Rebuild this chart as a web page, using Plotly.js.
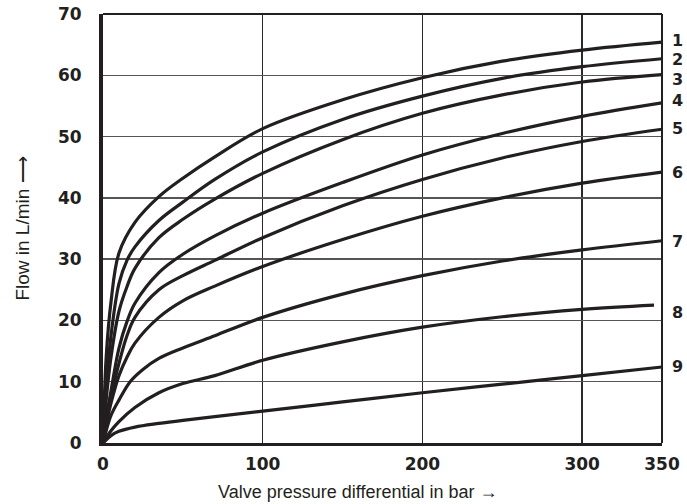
<!DOCTYPE html>
<html>
<head>
<meta charset="utf-8">
<script src="https://cdn.plot.ly/plotly-3.0.1.min.js"></script>
<style>html,body{margin:0;padding:0;background:#fff}#chart{width:687px;height:504px}</style>
</head>
<body>
<div id="chart"></div>
<script>
// Curve data: valve pressure differential (bar) vs flow (L/min)
const curveNames = ["1","2","3","4","5","6","7","8","9"];
const x1 = [0,2,5,10,20,35,50,70,100,150,200,250,300,350];
const y1 = [0,14,23,31,36,40.2,43.2,46.7,51.3,56,59.6,62.3,64.1,65.4];
const x2 = [0,2,5,10,15,20,35,50,70,100,150,200,250,300,350];
const y2 = [0,9,17.5,26,29.8,32,36.3,39.3,43,47.5,52.8,56.6,59.5,61.4,62.7];
const x3 = [0,2,5,10,15,20,35,50,70,100,150,200,250,300,350];
const y3 = [0,7,14,21.5,25.5,28.5,33.5,36.5,39.8,44,49.5,53.8,56.8,58.9,60.1];
const x4 = [0,2,5,10,15,20,35,50,70,100,150,200,250,300,350];
const y4 = [0,4,8.5,15.5,19.8,22.8,27.8,30.8,33.8,37.5,42.5,47,50.5,53.3,55.5];
const x5 = [0,2,5,10,15,20,35,50,70,100,150,200,250,300,350];
const y5 = [0,3.5,7.5,13,17.5,20.5,25,27.3,29.8,33.5,38.7,43,46.5,49.2,51.2];
const x6 = [0,2,5,10,15,20,35,50,70,100,150,200,250,300,350];
const y6 = [0,3,6.5,11,14,16.3,20.5,23.2,25.6,28.8,33.2,37,40,42.4,44.2];
const x7 = [0,2,5,10,17,25,35,50,70,100,150,200,250,300,350];
const y7 = [0,2,4.5,7,10,12,13.8,15.5,17.5,20.5,24.3,27.3,29.7,31.5,33];
const x8 = [0,5,10,20,35,50,70,100,150,200,250,300,345];
const y8 = [0,2,3.5,5.8,8.2,9.7,11,13.5,16.5,18.9,20.6,21.8,22.5];
const x9 = [0,5,10,20,35,50,70,100,150,200,250,300,350];
const y9 = [0,1.2,1.9,2.6,3.2,3.7,4.3,5.2,6.7,8.2,9.6,11,12.4];
const labelY = [65.8,62.7,59.4,55.9,51.4,44.2,33,21.3,12.5];
const xTicks = [0,100,200,300,350];
const yTicks = [0,10,20,30,40,50,60,70];
const xTitle = "Valve pressure differential in bar →";
const yTitle = "Flow in L/min ⟶";

const xs = [x1,x2,x3,x4,x5,x6,x7,x8,x9];
const ys = [y1,y2,y3,y4,y5,y6,y7,y8,y9];
const ink = "#231f20";

const traces = xs.map((x,i)=>({
  x: x, y: ys[i], type: "scatter", mode: "lines", name: curveNames[i],
  line: {color: ink, width: 3.2, shape: "spline", smoothing: 1},
  hoverinfo: "skip"
}));

const annotations = curveNames.map((n,i)=>({
  xref: "paper", yref: "y", x: 1, y: labelY[i],
  xanchor: "left", yanchor: "middle", xshift: 8, height: 14,
  text: n, showarrow: false,
  font: {family: "DejaVu Sans", size: 16, color: ink, weight: "bold"}
}));
annotations.push({
  xref: "paper", yref: "paper", x: 0.456, y: -0.114,
  xanchor: "center", yanchor: "middle", text: xTitle, showarrow: false,
  font: {family: "Liberation Sans", size: 18, color: ink}
});

const layout = {
  width: 687, height: 504,
  margin: {l: 103, r: 25, t: 14, b: 61},
  paper_bgcolor: "#fff", plot_bgcolor: "#fff",
  showlegend: false,
  xaxis: {
    range: [0,350], tickvals: xTicks, ticktext: xTicks.map(String),
    showgrid: true, gridcolor: "#2a2a2a", gridwidth: 1.5,
    zeroline: false, showline: true, linecolor: ink, linewidth: 3,
    ticks: "outside", ticklen: 4, tickcolor: "rgba(0,0,0,0)",
    tickfont: {family: "DejaVu Sans", size: 17, color: ink, weight: "bold"},
    fixedrange: true
  },
  yaxis: {
    range: [0,70], tickvals: yTicks, ticktext: yTicks.map(String),
    showgrid: true, gridcolor: "#555", gridwidth: 1.5,
    zeroline: false, showline: true, linecolor: ink, linewidth: 4,
    ticks: "outside", ticklen: 14, tickcolor: "rgba(0,0,0,0)",
    tickfont: {family: "DejaVu Sans", size: 17, color: ink, weight: "bold"},
    title: {text: yTitle, standoff: 24,
      font: {family: "Liberation Sans", size: 19, color: ink}},
    fixedrange: true
  },
  shapes: [
    {type: "line", xref: "paper", yref: "paper", x0: 0, x1: 1, y0: 1, y1: 1, line: {color: ink, width: 2}},
    {type: "line", xref: "paper", yref: "paper", x0: 1, x1: 1, y0: 0, y1: 1, line: {color: ink, width: 2}}
  ],
  annotations: annotations
};

Plotly.newPlot("chart", traces, layout, {staticPlot: true, displayModeBar: false});
</script>
</body>
</html>
